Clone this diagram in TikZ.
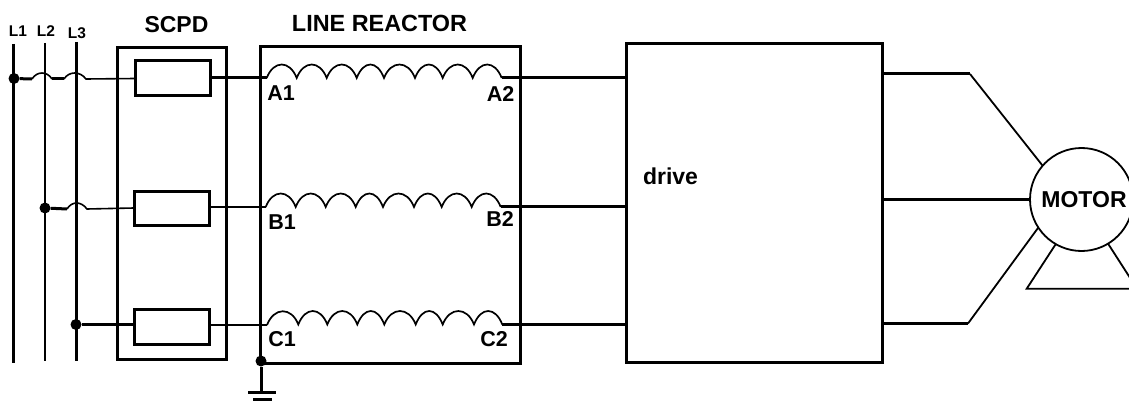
\documentclass[tikz,border=0pt]{standalone}
\usepackage{fontspec}
\setmainfont{Liberation Sans}
\tikzset{
  bus/.style={line width=2.8pt},
  wire/.style={line width=3pt},
  thinwire/.style={line width=1.6pt},
  coil/.style={line width=1.7pt},
  box/.style={draw, line width=3pt, rectangle, inner sep=0pt, outer sep=0pt},
  junction/.style={circle, fill=black, inner sep=0pt, minimum size=11pt},
  lab/.style={font=\fontsize{23}{25}\selectfont\bfseries, inner sep=0pt},
  termlab/.style={font=\fontsize{21.5}{24}\selectfont\bfseries, inner sep=0pt},
  smalllab/.style={font=\fontsize{15.5}{18}\selectfont\bfseries, inner sep=0pt}
}
\begin{document}
\begin{tikzpicture}[x=1pt,y=-1pt]
    \useasboundingbox (0,0) rectangle (1129,401);
    % supply lines
    \node[smalllab] (labLa) at (18,31) {L1};
    \node[smalllab] (labLb) at (46,31) {L2};
    \node[smalllab] (labLc) at (77,33) {L3};
    \coordinate (topLa) at (13.5,44); \coordinate (botLa) at (13.5,363);
    \coordinate (topLb) at (45,43); \coordinate (botLb) at (45,361);
    \coordinate (topLc) at (76.5,42); \coordinate (botLc) at (76.5,361);
    \draw[bus] (topLa) -- (botLa);
    \draw[bus] (topLb) -- (botLb);
    \draw[bus] (topLc) -- (botLc);
    \node[junction] (dotA) at (14,78.5) {};
    \node[junction] (dotB) at (45,208) {};
    \node[junction] (dotC) at (76,324.5) {};

    % scpd
    \node[box, minimum width=109pt, minimum height=312pt] (scpd) at (172,203.5) {};
    \node[lab] (labScpd) at (176.5,24.5) {SCPD};
    \node[box, minimum width=75pt, minimum height=35pt] (fuseA) at (172.5,78.5) {};
    \node[box, minimum width=75pt, minimum height=34pt] (fuseB) at (171.5,208) {};
    \node[box, minimum width=75pt, minimum height=35pt] (fuseC) at (171.5,326.5) {};

    % line reactor
    \node[box, minimum width=260pt, minimum height=317pt] (reactor) at (390.5,204.8) {};
    \node[font=\fontsize{23.4}{25}\selectfont\bfseries, inner sep=0pt] (labReactor) at (379.5,23) {LINE REACTOR};
    \coordinate (inA) at (266.7,78); \coordinate (outA) at (501.7,77.5);
    \coordinate (inB) at (265.7,207); \coordinate (outB) at (500.7,206);
    \coordinate (inC) at (267,325); \coordinate (outC) at (502.3,324);
    \draw[coil] (inA) foreach \x in {296.7,326.7,356.7,384,415,442.7,472.7,501.7} { .. controls +(7,-18) and +(-7,-18) .. (\x,78)};
    \draw[coil] (inB) foreach \x in {295.7,325.7,355.7,383,414,441.7,471.7,500.7} { .. controls +(7,-18) and +(-7,-18) .. (\x,207)};
    \draw[coil] (inC) foreach \x in {298.3,327.3,357.3,384.3,415.7,442.7,474,502.3} { .. controls +(7,-18) and +(-7,-18) .. (\x,324.5)};
    \node[termlab] (labAa) at (281,93) {A1};
    \node[termlab] (labAb) at (500.7,94) {A2};
    \node[termlab] (labBa) at (282,222) {B1};
    \node[termlab] (labBb) at (500,219) {B2};
    \node[termlab] (labCa) at (282,339) {C1};
    \node[termlab] (labCb) at (494,339) {C2};

    % input side, with hops over the other lines
    \draw[wire] (dotA) -- (32,79);
    \draw[thinwire] (32,79) .. controls (37,71) and (47,71) .. (52,79);
    \draw[wire] (52,79) -- (64,79);
    \draw[thinwire] (64,79) .. controls (69,71) and (80,71) .. (86,79) -- (fuseA.west);
    \draw[wire] (dotB) -- (67,209);
    \draw[thinwire] (67,209) .. controls (72,201) and (81,201) .. (87,209) -- (fuseB.west);
    \draw[wire] (dotC) -- (fuseC.west |- dotC);
    \draw[wire] (fuseA.east |- inA) -- (inA);
    \draw[thinwire] (fuseB.east |- inB) -- (inB);
    \draw[thinwire] (fuseC.east |- inC) -- (inC);

    % ground
    \node[junction] (dotGnd) at (261,361) {};
    \coordinate (gndStem) at (261,392.7);
    \coordinate (gndAl) at (248,392.7); \coordinate (gndAr) at (276,392.7);
    \coordinate (gndBl) at (253,399); \coordinate (gndBr) at (272,399);
    \draw[wire] (dotGnd) -- (gndStem);
    \draw[wire] (gndAl) -- (gndAr);
    \draw[wire] (gndBl) -- (gndBr);

    % drive
    \node[box, minimum width=256.7pt, minimum height=318.7pt] (drive) at (754.4,202.7) {};
    \node[lab] (labDrive) at (670.5,176) {drive};
    \draw[wire] (outA) -- (drive.west |- outA);
    \draw[wire] (outB) -- (drive.west |- outB);
    \draw[wire] (outC) -- (drive.west |- outC);

    % motor
    \node[draw, circle, line width=1.8pt, inner sep=0pt, outer sep=0pt, minimum size=103pt] (motor) at (1081.5,199.5) {};
    \node[lab] (labMotor) at (1084,200) {MOTOR};
    \coordinate (bendA) at (970,74); \coordinate (bendC) at (968,323.5);
    \coordinate (baseL) at (1026.7,288.7); \coordinate (baseR) at (1137,288.7);
    \draw[wire] (drive.east |- bendA) -- (bendA);
    \draw[line width=1.8pt] (bendA) -- (motor.139);
    \draw[wire] (drive.east |- motor) -- (motor.west);
    \draw[wire] (drive.east |- bendC) -- (bendC);
    \draw[line width=1.8pt] (bendC) -- (motor.213);
    \draw[line width=1.8pt] (motor.240) -- (baseL) -- (baseR) -- (motor.301);
\end{tikzpicture}
\end{document}
